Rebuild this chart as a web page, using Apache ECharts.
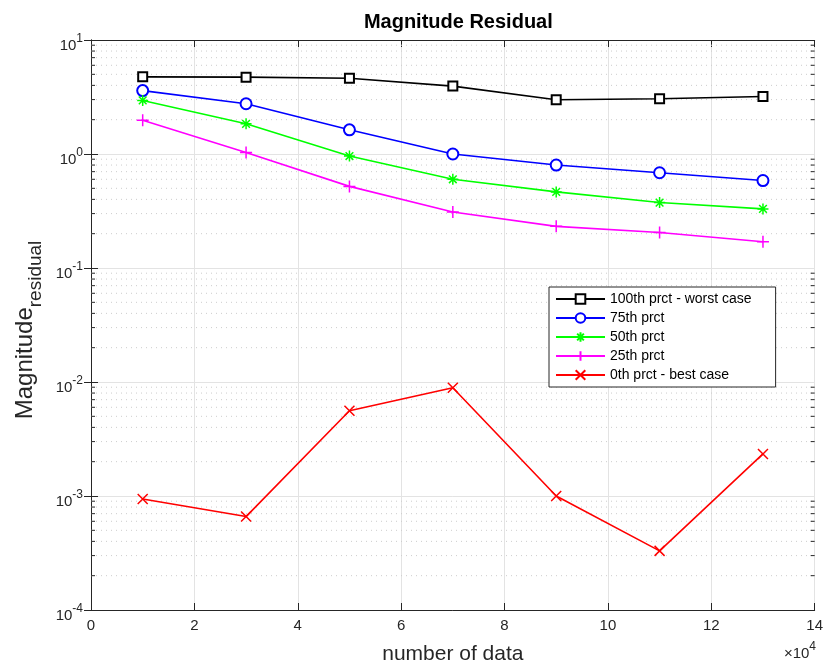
<!DOCTYPE html>
<html>
<head>
<meta charset="utf-8">
<script src="https://cdn.jsdelivr.net/npm/echarts@6/dist/echarts.min.js"></script>
<style>
  html, body { margin: 0; padding: 0; background: #fff; }
  #chart { width: 826px; height: 670px; }
</style>
</head>
<body>
<div id="chart"></div>
<script>
// number of data (x values)
var sizes = [10000, 30000, 50000, 70000, 90000, 110000, 130000];
// residual percentiles
var p100 = [4.75, 4.72, 4.62, 3.94, 2.99, 3.05, 3.19];
var p75  = [3.60, 2.76, 1.63, 1.00, 0.80, 0.685, 0.585];
var p50  = [2.95, 1.84, 0.96, 0.60, 0.465, 0.375, 0.33];
var p25  = [1.98, 1.03, 0.52, 0.31, 0.232, 0.205, 0.17];
var p0   = [0.00094, 0.00066, 0.0056, 0.0089, 0.0010, 0.00033, 0.00234];
var names = ['100th prct - worst case', '75th prct', '50th prct', '25th prct', '0th prct - best case'];

// minor log ticks (2..9 in every decade)
var decades = [-4, -3, -2, -1, 0];
var mantissas = [2, 3, 4, 5, 6, 7, 8, 9];
var minorTicks = [];
decades.forEach(function (d) {
    mantissas.forEach(function (m) { minorTicks.push([0, m * Math.pow(10, d)]); });
});

var font = '"Liberation Sans", Arial, Helvetica, sans-serif';
var axisColor = '#262626';

var myChart = echarts.init(document.getElementById('chart'));

function lineSeries(name, values, color, symbol, size) {
    return {
        name: name,
        type: 'line',
        data: sizes.map(function (x, i) { return [x, values[i]]; }),
        symbol: symbol,
        symbolSize: size,
        lineStyle: { color: color, width: 1.6 },
        itemStyle: { color: color, borderColor: color, borderWidth: 1.5 },
        emphasis: { disabled: true },
        z: 3
    };
}

var supRich = {
    b: { fontSize: 15, lineHeight: 15, padding: [6, 0, 0, 0], verticalAlign: 'top', color: axisColor, fontFamily: font },
    s: { fontSize: 12, lineHeight: 12, verticalAlign: 'top', color: axisColor, fontFamily: font }
};

var option = {
    animation: false,
    backgroundColor: '#fff',
    grid: { left: 91, top: 40, right: 10, bottom: 57 },
    legend: {
        orient: 'vertical',
        left: 549,
        top: 287,
        data: names,
        backgroundColor: '#fff',
        borderColor: axisColor,
        borderWidth: 1,
        borderRadius: 0,
        padding: [5, 24, 5, 6],
        itemWidth: 49,
        itemHeight: 12,
        itemGap: 5,
        textStyle: { fontSize: 14, color: '#000', fontFamily: font }
    },
    xAxis: [
        {
            type: 'value',
            position: 'bottom',
            min: 0, max: 140000, interval: 20000,
            name: 'number of data',
            nameLocation: 'middle',
            nameGap: 34,
            nameTextStyle: { fontSize: 21, color: axisColor, fontFamily: font },
            axisLine: { lineStyle: { color: axisColor, width: 1 } },
            axisTick: { inside: true, length: 7, lineStyle: { color: axisColor } },
            axisLabel: {
                margin: 8, fontSize: 15, color: axisColor, fontFamily: font,
                formatter: function (v) { return String(v / 10000); }
            },
            splitLine: { show: true, lineStyle: { color: '#e3e3e3', width: 1 } }
        },
        {
            type: 'value',
            position: 'top',
            min: 0, max: 140000, interval: 20000,
            name: 'Magnitude Residual',
            nameLocation: 'middle',
            nameGap: 8,
            nameTextStyle: { fontSize: 20, fontWeight: 'bold', color: '#000', fontFamily: font, padding: [0, 0, 0, 11] },
            axisLine: { lineStyle: { color: axisColor, width: 1 } },
            axisTick: { inside: true, length: 7, lineStyle: { color: axisColor } },
            axisLabel: { show: false },
            splitLine: { show: false }
        }
    ],
    yAxis: [
        {
            type: 'log',
            logBase: 10,
            min: 1e-4, max: 10,
            position: 'left',
            axisLine: { lineStyle: { color: axisColor, width: 1 } },
            axisTick: { inside: true, length: 7, lineStyle: { color: axisColor } },
            axisLabel: {
                margin: 8,
                formatter: function (v) {
                    var e = Math.round(Math.log10(v));
                    return '{b|10}{s|' + e + '}';
                },
                rich: supRich
            },
            splitLine: { show: true, lineStyle: { color: '#e3e3e3', width: 1 } }
        },
        {
            type: 'log',
            logBase: 10,
            min: 1e-4, max: 10,
            position: 'right',
            axisLine: { lineStyle: { color: axisColor, width: 1 } },
            axisTick: { inside: true, length: 7, lineStyle: { color: axisColor } },
            axisLabel: { show: false },
            splitLine: { show: false }
        }
    ],
    graphic: [
        {
            type: 'text',
            x: 25, y: 330,
            rotation: Math.PI / 2,
            style: {
                text: '{m|Magnitude}{s|residual}',
                textAlign: 'center', align: 'center',
                textVerticalAlign: 'middle', verticalAlign: 'middle',
                rich: {
                    m: { fontSize: 24, lineHeight: 24, verticalAlign: 'top', fill: axisColor, fontFamily: font },
                    s: { fontSize: 19, lineHeight: 19, padding: [13, 0, 0, 0], verticalAlign: 'top', fill: axisColor, fontFamily: font }
                }
            }
        },
        {
            type: 'text',
            right: 10, top: 641,
            style: {
                text: '{b|\u00d710}{s|4}',
                rich: {
                    b: { fontSize: 15, lineHeight: 15, padding: [5, 0, 0, 0], verticalAlign: 'top', fill: axisColor, fontFamily: font },
                    s: { fontSize: 12, lineHeight: 12, verticalAlign: 'top', fill: axisColor, fontFamily: font }
                }
            }
        }
    ],
    series: [
        {
            // dotted minor grid and minor ticks on both sides
            type: 'custom',
            silent: true,
            z: 1,
            data: minorTicks,
            renderItem: function (params, api) {
                var cs = params.coordSys;
                var y = api.coord([0, api.value(1)])[1];
                return {
                    type: 'group',
                    children: [
                        { type: 'line', shape: { x1: cs.x, y1: y, x2: cs.x + cs.width, y2: y },
                          style: { stroke: '#cdcdcd', lineWidth: 1, lineDash: [1, 4] } },
                        { type: 'line', shape: { x1: cs.x, y1: y, x2: cs.x + 4, y2: y },
                          style: { stroke: axisColor, lineWidth: 1 } },
                        { type: 'line', shape: { x1: cs.x + cs.width - 4, y1: y, x2: cs.x + cs.width, y2: y },
                          style: { stroke: axisColor, lineWidth: 1 } }
                    ]
                };
            }
        },
        lineSeries(names[0], p100, '#000000', 'emptyRect', 9),
        lineSeries(names[1], p75, '#0000ff', 'emptyCircle', 11),
        lineSeries(names[2], p50, '#00ff00', 'path://M10 0L10 20M0 10L20 10M3 3L17 17M3 17L17 3', 11),
        lineSeries(names[3], p25, '#ff00ff', 'path://M10 0L10 20M0 10L20 10', 12),
        lineSeries(names[4], p0, '#ff0000', 'path://M0 0L20 20M0 20L20 0', 10)
    ]
};

myChart.setOption(option);
</script>
</body>
</html>
